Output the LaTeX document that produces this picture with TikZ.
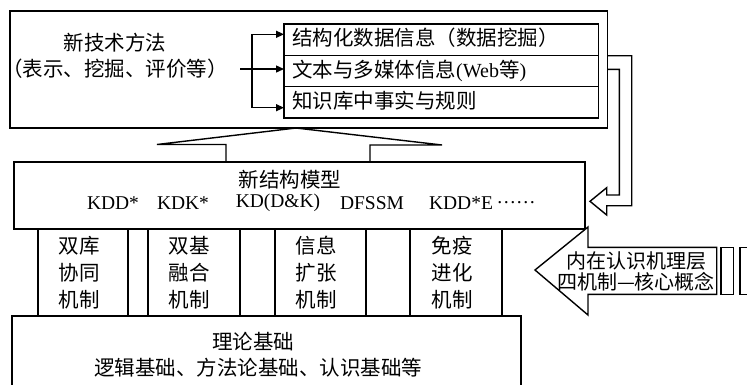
\documentclass[tikz,border=0pt]{standalone}
\usepackage{fontspec}
\setmainfont{Liberation Serif}
\newfontfamily\cjk{Noto Sans CJK SC}
\usetikzlibrary{arrows.meta}
\begin{document}
\begin{tikzpicture}[x=1pt,y=-1pt,
  box/.style={draw,line width=1.4pt,inner sep=0pt,outer sep=0pt},
  ln/.style={line width=1.4pt},
  txt/.style={inner sep=0pt,font=\fontsize{20.5}{22}\selectfont\cjk},
  lat/.style={inner sep=0pt,font=\fontsize{19.5}{21}\selectfont},
  arr/.style={line width=1.4pt,-{Triangle[length=8pt,width=7pt]}}]
\useasboundingbox[fill=white] (0,0) rectangle (747,384);
% top box
\node[box,minimum width=597.7pt,minimum height=117pt] (top) at (308.85,69.5) {};
\node[box,minimum width=314.7pt,minimum height=31.33pt] (r1) at (441.35,39.67) {};
\node[box,minimum width=314.7pt,minimum height=31.33pt] (r2) at (441.35,71) {};
\node[box,minimum width=314.7pt,minimum height=31.33pt] (r3) at (441.35,102.33) {};
\node[txt,anchor=west] (r1t) at (292,38) {结构化数据信息（数据挖掘）};
\node[txt,anchor=west] (r2t) at (292,71) {{\cjk 文本与多媒体信息}{\normalfont\fontsize{20}{22}\selectfont(Web}等{\normalfont\fontsize{20}{22}\selectfont)}};
\node[txt,anchor=west] (r3t) at (292,101) {知识库中事实与规则};
\node[txt] (t1) at (115,43) {新技术方法};
\node[txt] (t2) at (115,69) {（表示、挖掘、评价等）};
\coordinate (a0) at (240,69);
\coordinate (b1) at (252,34.3);
\coordinate (b3) at (252,107.7);
\draw[arr] (a0) -- (a0 -| r2.west);
\draw[ln] (b1) -- (b3);
\draw[arr] (b1) -- (b1 -| r1.west);
\draw[arr] (b3) -- (b3 -| r3.west);
% model box
\node[box,minimum width=571pt,minimum height=67pt] (model) at (299.5,195.5) {};
\node[txt] (mt) at (290,180) {新结构模型};
\node[lat] (k1) at (113,203) {KDD*};
\node[lat] (k2) at (183,203) {KDK*};
\node[lat] (k3) at (278,203) {KD(D\&K)};
\node[lat] (k4) at (372,203) {DFSSM};
\node[lat] (k5) at (461,203) {KDD*E};
\node[lat] (k6) at (516,203) {……};
% funnel
\coordinate (apex) at (296,128);
\draw[ln,line join=miter] (226,162) -- (226,144.5) -- (157,144.5) -- (apex) -- (442,145) -- (370,145) -- (370,162);
% columns
\node[box,minimum width=90pt,minimum height=87pt] (c1) at (83,272.5) {};
\node[box,minimum width=92pt,minimum height=87pt] (c2) at (194,272.5) {};
\node[box,minimum width=91pt,minimum height=87pt] (c3) at (320.5,272.5) {};
\node[box,minimum width=92pt,minimum height=87pt] (c4) at (456,272.5) {};
\foreach \x/\a/\b/\n in {79/双库/协同/p,189/双基/融合/q,316/信息/扩张/r,452/免疫/进化/s}{
  \node[txt] (\n1) at (\x,246) {\a};
  \node[txt] (\n2) at (\x,273) {\b};
  \node[txt] (\n3) at (\x,300) {机制};
}
% base
\node[box,minimum width=509pt,minimum height=74pt] (base) at (266.5,353) {};
\node[txt] (bt1) at (253,342) {理论基础};
\node[txt] (bt2) at (258,368) {逻辑基础、方法论基础、认识基础等};
% U hollow arrow
\draw[ln,line join=miter] (607.7,55.7) -- (631.7,55.7) -- (631.7,205.7) -- (606.7,205.7) -- (606.7,215) -- (590,201.3) -- (606.7,187.7) -- (606.7,195) -- (619.3,195) -- (619.3,69.3) -- (607.7,69.3);
% big arrow
\draw[ln,line join=miter,fill=white] (535,270) -- (588,227) -- (588,247.3) -- (716.7,247.3) -- (716.7,294.3) -- (588,294.3) -- (588,315) -- cycle;
\node[txt,font=\fontsize{20}{22}\selectfont\cjk] (ba1) at (636,261) {内在认识机理层};
\node[txt,font=\fontsize{20}{22}\selectfont\cjk] (ba2) at (636,282) {四机制—核心概念};
\node[box,minimum width=12.3pt,minimum height=47pt] (s1) at (727.15,270.8) {};
\node[box,minimum width=14pt,minimum height=47pt] (s2) at (747,270.8) {};
\end{tikzpicture}
\end{document}
